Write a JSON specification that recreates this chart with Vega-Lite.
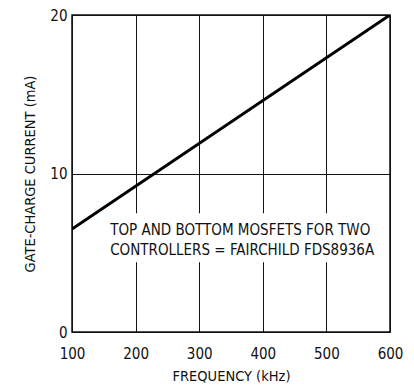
{
  "$schema": "https://vega.github.io/schema/vega-lite/v6.json",
  "width": 318,
  "height": 317,
  "autosize": {"type": "none"},
  "padding": {"left": 72, "top": 15, "right": 24, "bottom": 53},
  "background": "white",
  "config": {
    "font": "DejaVu Sans Condensed, sans-serif",
    "view": {"stroke": "#111", "strokeWidth": 1.5},
    "axis": {
      "labelFont": "DejaVu Sans Condensed, sans-serif",
      "titleFont": "DejaVu Sans Condensed, sans-serif",
      "labelFontSize": 15,
      "titleFontSize": 14.5,
      "titleFontWeight": "normal",
      "labelColor": "#111",
      "titleColor": "#111",
      "domain": false,
      "ticks": false,
      "gridColor": "#111",
      "gridOpacity": 1,
      "gridWidth": 1
    }
  },
  "datasets": {
    "curve": [
      {"freq": 100, "current": 6.5},
      {"freq": 600, "current": 20}
    ],
    "box": [
      {"x1": 158, "x2": 580, "y1": 4.4, "y2": 7.5}
    ],
    "notes": [
      {"freq": 160, "current": 6.45, "label": "TOP AND BOTTOM MOSFETS FOR TWO"},
      {"freq": 160, "current": 5.2, "label": "CONTROLLERS = FAIRCHILD FDS8936A"}
    ]
  },
  "layer": [
    {
      "data": {"name": "box"},
      "mark": {"type": "rect", "fill": "white", "stroke": null},
      "encoding": {
        "x": {"field": "x1", "type": "quantitative", "scale": {"domain": [100, 600], "nice": false},
          "axis": {"values": [100, 200, 300, 400, 500, 600], "title": "FREQUENCY (kHz)", "labelPadding": 14, "titlePadding": 8, "grid": true, "labelFlush": false}},
        "x2": {"field": "x2"},
        "y": {"field": "y1", "type": "quantitative", "scale": {"domain": [0, 20], "nice": false},
          "axis": {"values": [0, 10, 20], "title": "GATE-CHARGE CURRENT (mA)", "labelPadding": 5, "titlePadding": 12, "grid": true, "labelFlush": false}},
        "y2": {"field": "y2"}
      }
    },
    {
      "data": {"name": "curve"},
      "mark": {"type": "line", "color": "#000", "strokeWidth": 3, "clip": true},
      "encoding": {
        "x": {"field": "freq", "type": "quantitative"},
        "y": {"field": "current", "type": "quantitative"}
      }
    },
    {
      "data": {"name": "notes"},
      "mark": {"type": "text", "align": "left", "baseline": "middle", "fontSize": 15, "color": "#111",
        "font": "DejaVu Sans Condensed, sans-serif"},
      "encoding": {
        "x": {"field": "freq", "type": "quantitative"},
        "y": {"field": "current", "type": "quantitative"},
        "text": {"field": "label"}
      }
    }
  ]
}
